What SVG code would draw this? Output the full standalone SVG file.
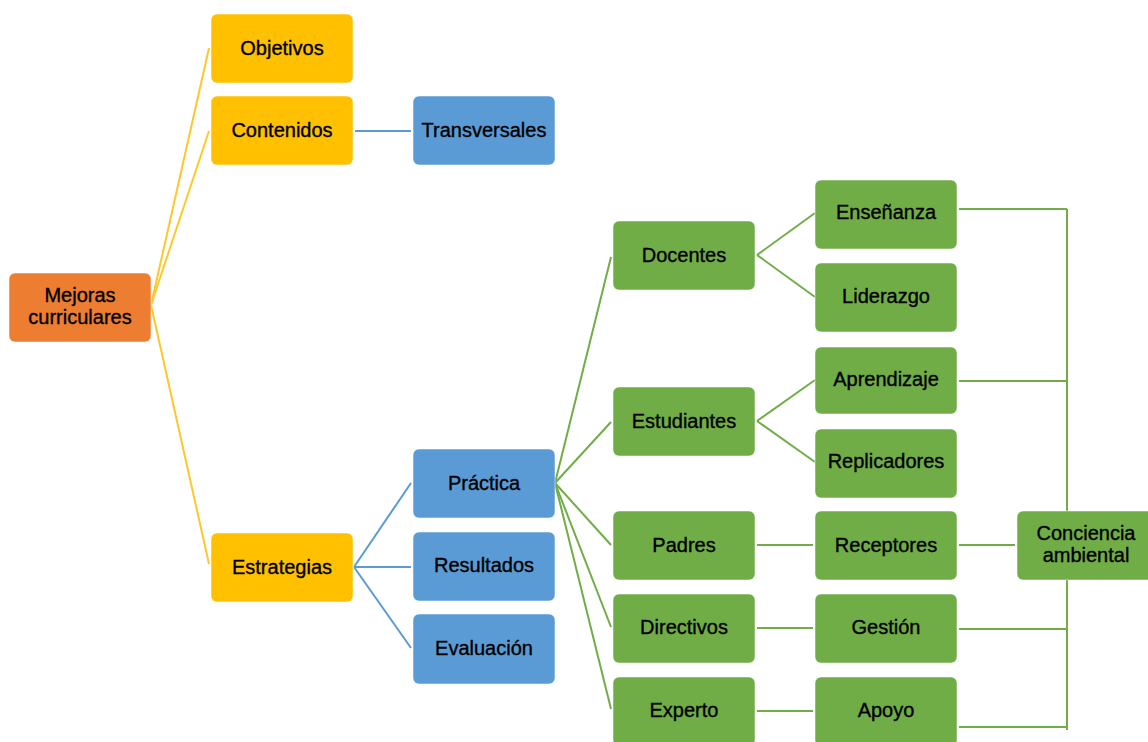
<svg xmlns="http://www.w3.org/2000/svg" width="1148" height="742" viewBox="0 0 1148 742">
<style>
.b{stroke:#ffffff;stroke-opacity:0.5;stroke-width:1}
.or{fill:#ED7D31}
.go{fill:#FFC000}
.bl{fill:#5B9BD5}
.gr{fill:#70AD47}
text{font-family:"Liberation Sans",Arial,sans-serif;font-size:20px;fill:#000;stroke:#000;stroke-width:0.35;text-anchor:middle}
.cy{stroke:#FFC72C;stroke-width:2;fill:none}
.cb{stroke:#5B9BD5;stroke-width:2;fill:none}
.cg{stroke:#70AD47;stroke-width:2;fill:none}
</style>
<rect width="1148" height="742" fill="#ffffff"/>
<g id="connectors">
<line class="cy" x1="151" y1="305" x2="209" y2="48"/>
<line class="cy" x1="151" y1="305" x2="209" y2="131"/>
<line class="cy" x1="151" y1="305" x2="209" y2="564"/>
<line class="cb" x1="355" y1="131" x2="411" y2="131"/>
<line class="cb" x1="354" y1="567" x2="411" y2="483"/>
<line class="cb" x1="354" y1="567" x2="411" y2="567"/>
<line class="cb" x1="354" y1="567" x2="411" y2="648"/>
<line class="cg" x1="555" y1="483" x2="611" y2="257"/>
<line class="cg" x1="555" y1="483" x2="611" y2="422"/>
<line class="cg" x1="555" y1="483" x2="611" y2="545"/>
<line class="cg" x1="555" y1="483" x2="611" y2="627"/>
<line class="cg" x1="555" y1="483" x2="611" y2="709"/>
<line class="cg" x1="757" y1="255" x2="815" y2="213"/>
<line class="cg" x1="757" y1="255" x2="815" y2="297"/>
<line class="cg" x1="757" y1="421" x2="815" y2="380"/>
<line class="cg" x1="757" y1="421" x2="815" y2="462"/>
<line class="cg" x1="757" y1="545" x2="813" y2="545"/>
<line class="cg" x1="757" y1="628" x2="813" y2="628"/>
<line class="cg" x1="757" y1="711" x2="813" y2="711"/>
<line class="cg" x1="959" y1="545" x2="1015" y2="545"/>
<path class="cg" d="M959 209H1067M959 381H1067M959 629H1067M959 727H1067M1067 209V730"/>
</g>
<g id="n-mejoras"><rect class="b or" x="9" y="273" width="142" height="69" rx="6"/><text x="80" y="302">Mejoras</text><text x="80" y="324">curriculares</text></g>
<g id="n-objetivos"><rect class="b go" x="211" y="14" width="142" height="69" rx="6"/><text x="282" y="55">Objetivos</text></g>
<g id="n-contenidos"><rect class="b go" x="211" y="96" width="142" height="69" rx="6"/><text x="282" y="137">Contenidos</text></g>
<g id="n-transversales"><rect class="b bl" x="413" y="96" width="142" height="69" rx="6"/><text x="484" y="137">Transversales</text></g>
<g id="n-estrategias"><rect class="b go" x="211" y="533" width="142" height="69" rx="6"/><text x="282" y="574">Estrategias</text></g>
<g id="n-practica"><rect class="b bl" x="413" y="449" width="142" height="69" rx="6"/><text x="484" y="490">Práctica</text></g>
<g id="n-resultados"><rect class="b bl" x="413" y="532" width="142" height="69" rx="6"/><text x="484" y="572">Resultados</text></g>
<g id="n-evaluacion"><rect class="b bl" x="413" y="614" width="142" height="70" rx="6"/><text x="484" y="655">Evaluación</text></g>
<g id="n-docentes"><rect class="b gr" x="613" y="221" width="142" height="69" rx="6"/><text x="684" y="262">Docentes</text></g>
<g id="n-estudiantes"><rect class="b gr" x="613" y="387" width="142" height="69" rx="6"/><text x="684" y="428">Estudiantes</text></g>
<g id="n-padres"><rect class="b gr" x="613" y="511" width="142" height="69" rx="6"/><text x="684" y="552">Padres</text></g>
<g id="n-directivos"><rect class="b gr" x="613" y="594" width="142" height="69" rx="6"/><text x="684" y="634">Directivos</text></g>
<g id="n-experto"><rect class="b gr" x="613" y="677" width="142" height="69" rx="6"/><text x="684" y="717">Experto</text></g>
<g id="n-ensenanza"><rect class="b gr" x="815" y="180" width="142" height="69" rx="6"/><text x="886" y="219">Enseñanza</text></g>
<g id="n-liderazgo"><rect class="b gr" x="815" y="263" width="142" height="69" rx="6"/><text x="886" y="303">Liderazgo</text></g>
<g id="n-aprendizaje"><rect class="b gr" x="815" y="347" width="142" height="67" rx="6"/><text x="886" y="386">Aprendizaje</text></g>
<g id="n-replicadores"><rect class="b gr" x="815" y="429" width="142" height="69" rx="6"/><text x="886" y="468">Replicadores</text></g>
<g id="n-receptores"><rect class="b gr" x="815" y="511" width="142" height="69" rx="6"/><text x="886" y="552">Receptores</text></g>
<g id="n-gestion"><rect class="b gr" x="815" y="594" width="142" height="69" rx="6"/><text x="886" y="634">Gestión</text></g>
<g id="n-apoyo"><rect class="b gr" x="815" y="677" width="142" height="69" rx="6"/><text x="886" y="717">Apoyo</text></g>
<g id="n-conciencia"><rect class="b gr" x="1017" y="511" width="142" height="69" rx="6"/><text x="1086" y="540">Conciencia</text><text x="1086" y="562">ambiental</text></g>
</svg>
